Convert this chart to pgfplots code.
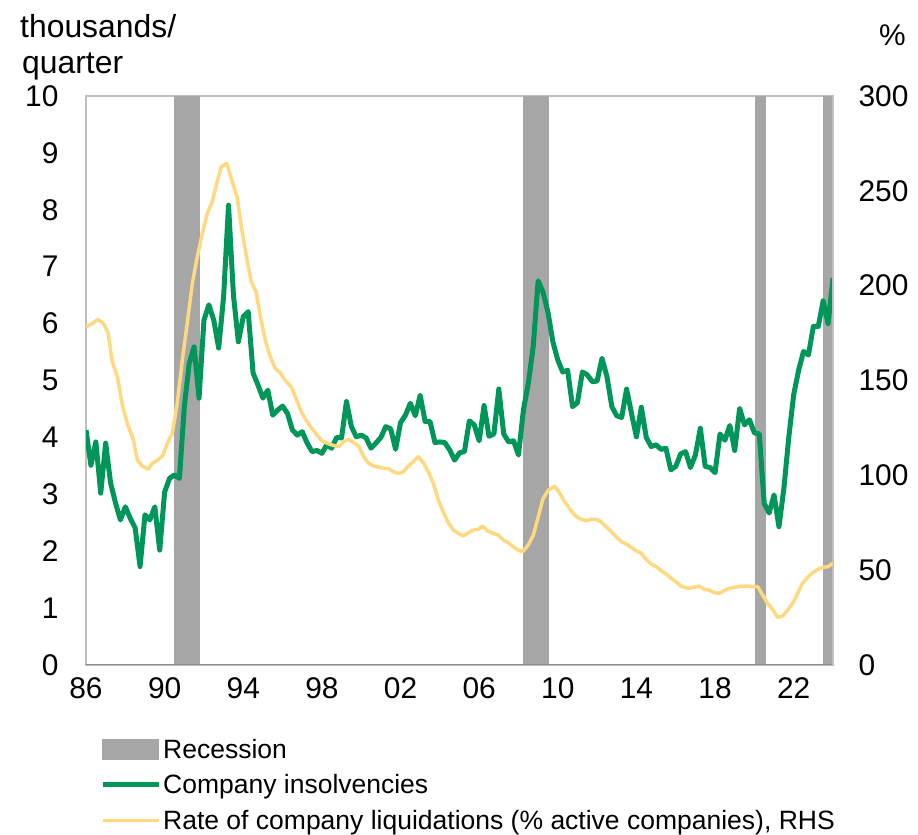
\documentclass[border=0pt]{standalone}
\usepackage{fontspec}
\setmainfont{Liberation Sans}
\usepackage{pgfplots}
\pgfplotsset{compat=1.18}
\definecolor{ins}{RGB}{0,150,90}
\definecolor{liq}{RGB}{255,217,128}
\definecolor{rec}{RGB}{166,166,166}
\definecolor{frm}{RGB}{191,191,191}

\begin{document}
\begin{tikzpicture}
\path[use as bounding box] (0,0) rectangle (918bp,835bp);
\pgfplotsset{
  base/.style={scale only axis, width=747bp, height=569bp, at={(86bp,170bp)}, anchor=south west,
    xmin=1986, xmax=2024,
    ticklabel style={font=\fontsize{30}{36}\selectfont},
    major tick length=0pt, tick style={draw=none},
    /pgf/number format/assume math mode=true,
    axis line style={draw=frm, line width=1.5bp}},
}
\begin{axis}[base, ymin=0, ymax=10, ytick={0,1,...,10},
  xtick={1986,1990,1994,1998,2002,2006,2010,2014,2018,2022},
  xticklabels={86,90,94,98,02,06,10,14,18,22},
  yticklabel shift=24bp, xticklabel shift=9bp]
\addplot[fill=rec, draw=none, forget plot] coordinates {(1990.48,0) (1990.48,10) (1991.80,10) (1991.80,0)} -- cycle;
\addplot[fill=rec, draw=none, forget plot] coordinates {(2008.23,0) (2008.23,10) (2009.55,10) (2009.55,0)} -- cycle;
\addplot[fill=rec, draw=none, forget plot] coordinates {(2020.03,0) (2020.03,10) (2020.59,10) (2020.59,0)} -- cycle;
\addplot[fill=rec, draw=none, forget plot] coordinates {(2023.49,0) (2023.49,10) (2024.00,10) (2024.00,0)} -- cycle;
\draw[color=black!45, line width=1.5bp] (rel axis cs:0,0) -- (rel axis cs:1,0);
\addplot[ins, line width=5bp, line join=round, forget plot] table {
x y
1986.00 4.13
1986.25 3.51
1986.50 3.92
1986.75 3.02
1987.00 3.90
1987.25 3.20
1987.50 2.85
1987.75 2.55
1988.00 2.78
1988.25 2.58
1988.50 2.41
1988.75 1.73
1989.00 2.64
1989.25 2.55
1989.50 2.78
1989.75 2.02
1990.00 3.04
1990.25 3.28
1990.50 3.34
1990.75 3.28
1991.00 4.53
1991.25 5.30
1991.50 5.59
1991.75 4.69
1992.00 6.06
1992.25 6.33
1992.50 6.06
1992.75 5.57
1993.00 6.47
1993.25 8.08
1993.50 6.50
1993.75 5.68
1994.00 6.12
1994.25 6.21
1994.50 5.13
1994.75 4.92
1995.00 4.69
1995.25 4.83
1995.50 4.39
1995.75 4.48
1996.00 4.55
1996.25 4.42
1996.50 4.13
1996.75 4.04
1997.00 4.10
1997.25 3.90
1997.50 3.75
1997.75 3.77
1998.00 3.72
1998.25 3.87
1998.50 3.81
1998.75 4.00
1999.00 3.99
1999.25 4.63
1999.50 4.19
1999.75 4.01
2000.00 4.04
2000.25 3.99
2000.50 3.81
2000.75 3.90
2001.00 4.00
2001.25 4.19
2001.50 4.15
2001.75 3.79
2002.00 4.26
2002.25 4.39
2002.50 4.60
2002.75 4.38
2003.00 4.74
2003.25 4.28
2003.50 4.28
2003.75 3.91
2004.00 3.92
2004.25 3.91
2004.50 3.78
2004.75 3.60
2005.00 3.73
2005.25 3.75
2005.50 4.29
2005.75 4.22
2006.00 3.94
2006.25 4.56
2006.50 4.02
2006.75 4.06
2007.00 4.85
2007.25 4.06
2007.50 3.92
2007.75 3.94
2008.00 3.69
2008.25 4.48
2008.50 4.95
2008.75 5.60
2009.00 6.75
2009.25 6.55
2009.50 6.20
2009.75 5.68
2010.00 5.36
2010.25 5.15
2010.50 5.18
2010.75 4.54
2011.00 4.61
2011.25 5.15
2011.50 5.10
2011.75 4.98
2012.00 4.99
2012.25 5.39
2012.50 5.07
2012.75 4.54
2013.00 4.38
2013.25 4.35
2013.50 4.85
2013.75 4.42
2014.00 4.01
2014.25 4.53
2014.50 4.00
2014.75 3.84
2015.00 3.87
2015.25 3.79
2015.50 3.81
2015.75 3.43
2016.00 3.49
2016.25 3.71
2016.50 3.75
2016.75 3.47
2017.00 3.69
2017.25 4.16
2017.50 3.49
2017.75 3.47
2018.00 3.38
2018.25 4.06
2018.50 3.95
2018.75 4.21
2019.00 3.77
2019.25 4.51
2019.50 4.22
2019.75 4.31
2020.00 4.08
2020.25 4.06
2020.50 2.84
2020.75 2.67
2021.00 2.99
2021.25 2.43
2021.50 3.10
2021.75 4.00
2022.00 4.75
2022.25 5.18
2022.50 5.51
2022.75 5.45
2023.00 5.95
2023.25 5.95
2023.50 6.40
2023.75 6.00
2024.00 6.80
};
\end{axis}
\begin{axis}[base, ymin=0, ymax=300, ytick={0,50,...,300},
  axis y line*=right, axis x line=none,
  yticklabel shift=22bp,
  legend style={at={(0.0187,-0.126)}, anchor=north west, draw=none, fill=none,
    font=\fontsize{26.6}{30}\selectfont, row sep=11bp, inner sep=0pt,
    /tikz/every even column/.style={column sep=0bp}},
  legend cell align=left]
\addlegendimage{legend image code/.code={\fill[rec] (0bp,-10bp) rectangle (56bp,10bp);}}
\addlegendentry{Recession}
\addlegendimage{legend image code/.code={\draw[ins, line width=5bp] (0bp,0bp) -- (56bp,0bp);}}
\addlegendentry{Company insolvencies}
\addplot[liq, line width=3.5bp, line join=round,
  legend image code/.code={\draw[liq, line width=3.5bp] (0bp,0bp) -- (56bp,0bp);}] table {
x y
1986.00 178.3
1986.32 180.1
1986.61 182.2
1986.88 180.1
1987.12 175.2
1987.34 159.9
1987.59 152.0
1987.85 137.1
1988.10 127.4
1988.41 118.6
1988.61 108.1
1988.86 104.9
1989.15 103.2
1989.37 106.3
1989.66 108.1
1989.92 110.7
1990.14 116.9
1990.39 122.1
1990.64 137.9
1990.90 160.8
1991.15 180.1
1991.41 201.2
1991.66 215.2
1991.92 227.6
1992.17 238.1
1992.42 244.3
1992.65 253.9
1992.88 262.7
1993.16 264.5
1993.39 256.6
1993.68 246.9
1993.93 229.3
1994.19 213.5
1994.41 202.0
1994.65 196.8
1994.87 183.6
1995.12 171.3
1995.37 162.5
1995.63 156.4
1995.88 154.1
1996.14 149.9
1996.44 146.7
1996.68 140.6
1996.95 133.5
1997.19 129.2
1997.46 125.1
1997.75 121.2
1998.00 118.2
1998.26 116.9
1998.51 116.0
1998.85 115.1
1999.11 117.7
1999.36 119.0
1999.62 117.2
1999.87 115.4
2000.13 109.8
2000.38 106.3
2000.63 104.9
2000.95 104.2
2001.16 103.7
2001.38 103.7
2001.63 101.9
2001.89 101.0
2002.14 101.9
2002.39 104.9
2002.65 107.2
2002.90 109.8
2003.16 106.7
2003.41 101.9
2003.67 95.8
2003.92 87.0
2004.17 80.8
2004.43 75.0
2004.68 71.2
2004.94 69.4
2005.19 68.0
2005.45 69.7
2005.70 71.2
2005.95 71.5
2006.18 73.3
2006.41 70.8
2006.72 69.4
2006.97 68.5
2007.23 65.9
2007.48 64.5
2007.73 62.4
2007.99 60.6
2008.21 59.7
2008.48 63.0
2008.74 68.0
2008.99 77.5
2009.24 87.5
2009.50 92.0
2009.84 94.3
2010.10 90.5
2010.35 86.0
2010.65 81.7
2010.94 78.2
2011.19 76.8
2011.45 76.1
2011.70 76.8
2011.96 76.8
2012.21 75.5
2012.46 72.9
2012.72 70.3
2012.97 67.6
2013.23 65.0
2013.48 63.8
2013.73 62.0
2013.99 60.3
2014.24 58.9
2014.50 55.7
2014.75 53.2
2015.01 51.8
2015.26 49.7
2015.51 48.0
2015.77 45.7
2016.11 43.1
2016.26 41.6
2016.61 40.4
2016.94 41.0
2017.20 41.6
2017.45 39.9
2017.70 39.5
2017.96 38.1
2018.21 37.8
2018.47 39.2
2018.72 40.4
2019.03 41.0
2019.32 41.6
2019.66 41.6
2019.91 41.3
2020.17 41.3
2020.42 36.9
2020.67 32.5
2020.93 29.3
2021.18 25.1
2021.44 25.8
2021.69 29.0
2021.95 32.5
2022.20 37.8
2022.45 43.1
2022.71 46.2
2022.96 48.7
2023.22 50.4
2023.47 51.5
2023.73 51.8
2024.00 53.6
};
\addlegendentry{Rate of company liquidations (\% active companies), RHS}
\end{axis}
\node[anchor=base west, inner sep=0pt, font=\fontsize{32}{36}\selectfont] at (20bp,797bp) {thousands/};
\node[anchor=base west, inner sep=0pt, font=\fontsize{32}{36}\selectfont] at (22bp,761bp) {quarter};
\node[anchor=base west, inner sep=0pt, font=\fontsize{30}{36}\selectfont] at (879bp,789bp) {\%};
\end{tikzpicture}
\end{document}
